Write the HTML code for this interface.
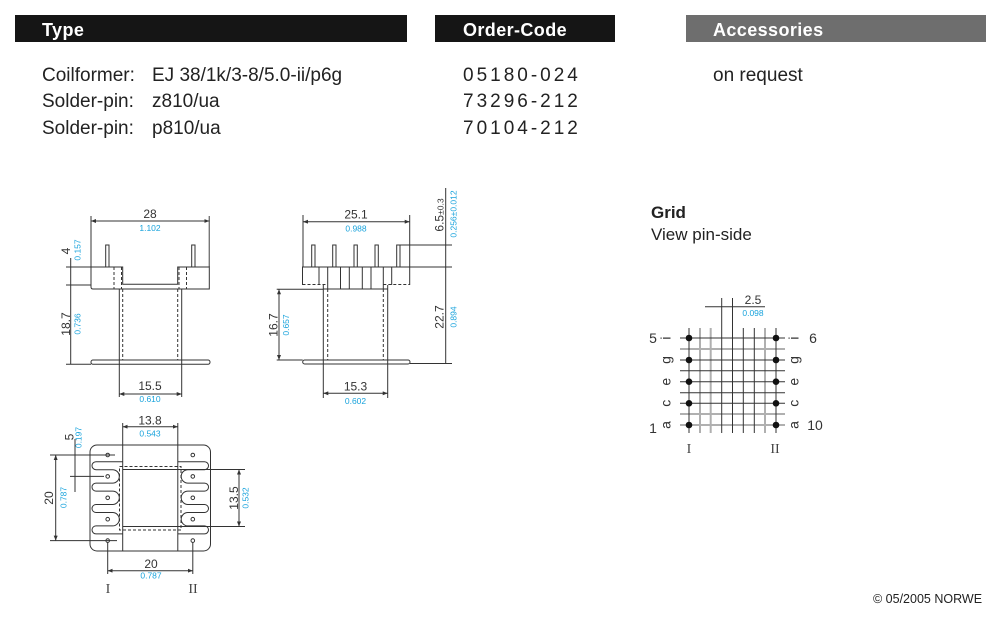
<!DOCTYPE html>
<html><head><meta charset="utf-8"><style>
body{margin:0;background:#fff}
svg{display:block}
text{font-family:"Liberation Sans",Arial,sans-serif}
.l{stroke:#333;stroke-width:1;fill:none}
.d{stroke-dasharray:3 2}
.gr{stroke:#b0b0b0;stroke-width:2;fill:none}
.t{font-size:12px;fill:#333}
.c{font-size:8.5px;fill:#19a3dc}
.s{font-family:"Liberation Serif",serif;font-size:14px;fill:#444}
.b{font-size:19px;fill:#222}
.h{font-size:18px;font-weight:bold;fill:#fff;letter-spacing:0.4px}
</style></head><body>
<svg width="1000" height="620" viewBox="0 0 1000 620">
<defs>
<marker id="a" viewBox="0 0 5 4" refX="5" refY="2" markerWidth="5" markerHeight="4" markerUnits="userSpaceOnUse" orient="auto-start-reverse"><path d="M0,0 L5,2 L0,4 z" fill="#333"/></marker>
</defs>

<!-- Header bars -->
<rect x="15" y="15" width="392" height="27" fill="#151515"/>
<rect x="435" y="15" width="180" height="27" fill="#151515"/>
<rect x="686" y="15" width="300" height="27" fill="#6e6e6e"/>
<text class="h" x="42" y="36">Type</text>
<text class="h" x="463" y="36">Order-Code</text>
<text class="h" x="713" y="36">Accessories</text>

<text class="b" x="42" y="81">Coilformer:</text>
<text class="b" x="152" y="81">EJ 38/1k/3-8/5.0-ii/p6g</text>
<text class="b" x="42" y="107">Solder-pin:</text>
<text class="b" x="152" y="107">z810/ua</text>
<text class="b" x="42" y="134">Solder-pin:</text>
<text class="b" x="152" y="134">p810/ua</text>
<text class="b" x="463" y="81" letter-spacing="3">05180-024</text>
<text class="b" x="463" y="107" letter-spacing="3">73296-212</text>
<text class="b" x="463" y="134" letter-spacing="3">70104-212</text>
<text class="b" x="713" y="81">on request</text>

<!-- LEFT DRAWING -->
<line class="l" x1="91" y1="216" x2="91" y2="267"/>
<line class="l" x1="209.3" y1="216" x2="209.3" y2="267" style="stroke:#777;stroke-width:1.4"/>
<line class="l" x1="91" y1="221" x2="209.3" y2="221" marker-start="url(#a)" marker-end="url(#a)"/>
<text class="t" x="150" y="218" text-anchor="middle">28</text>
<text class="c" x="150" y="231" text-anchor="middle">1.102</text>
<rect class="l" x="105.7" y="245" width="3.3" height="22"/>
<rect class="l" x="191.7" y="245" width="3.3" height="22"/>
<path class="l" d="M91,267 H122.7 V284.3 H177.7 V267 H209.3 V289 H93 Q91,289 91,287 Z"/>
<line class="l d" x1="114" y1="267" x2="114" y2="289"/>
<line class="l d" x1="121.5" y1="267" x2="121.5" y2="289"/>
<line class="l d" x1="179" y1="267" x2="179" y2="289"/>
<line class="l d" x1="186.5" y1="267" x2="186.5" y2="289"/>
<line class="l" x1="119.3" y1="289" x2="119.3" y2="397"/>
<line class="l" x1="181.7" y1="289" x2="181.7" y2="397"/>
<line class="l d" x1="122.7" y1="289" x2="122.7" y2="360"/>
<line class="l d" x1="177.7" y1="289" x2="177.7" y2="360"/>
<rect class="l" x="91" y="360" width="119" height="4.3" rx="2"/>
<line class="l" x1="66" y1="267" x2="91" y2="267"/>
<line class="l" x1="66" y1="285" x2="91" y2="285"/>
<line class="l" x1="66" y1="364.3" x2="91" y2="364.3"/>
<line class="l" x1="70.7" y1="258" x2="70.7" y2="364.3"/>
<text class="t" x="70" y="251" text-anchor="middle" transform="rotate(-90 70 251)">4</text>
<text class="c" x="80.5" y="250" text-anchor="middle" transform="rotate(-90 80.5 250)">0.157</text>
<text class="t" x="70" y="324" text-anchor="middle" transform="rotate(-90 70 324)">18.7</text>
<text class="c" x="80.5" y="324" text-anchor="middle" transform="rotate(-90 80.5 324)">0.736</text>
<line class="l" x1="119.3" y1="394" x2="181.7" y2="394" marker-start="url(#a)" marker-end="url(#a)"/>
<text class="t" x="150" y="390" text-anchor="middle">15.5</text>
<text class="c" x="150" y="402" text-anchor="middle">0.610</text>

<!-- MIDDLE DRAWING -->
<line class="l" x1="303" y1="215" x2="303" y2="267"/>
<line class="l" x1="409.7" y1="215" x2="409.7" y2="267"/>
<line class="l" x1="303" y1="221.7" x2="409.7" y2="221.7" marker-start="url(#a)" marker-end="url(#a)"/>
<text class="t" x="356" y="218.5" text-anchor="middle">25.1</text>
<text class="c" x="356" y="231.5" text-anchor="middle">0.988</text>
<rect class="l" x="311.7" y="245" width="3.3" height="22"/>
<rect class="l" x="332.7" y="245" width="3.3" height="22"/>
<rect class="l" x="354" y="245" width="3.3" height="22"/>
<rect class="l" x="375" y="245" width="3.3" height="22"/>
<rect class="l" x="396.7" y="245" width="3.3" height="22"/>
<path class="l" d="M302.5,285 V267 H409.7 V285"/>
<path class="l" d="M323.3,289 H387.7"/>
<line class="l d" x1="302.5" y1="284.5" x2="327.7" y2="284.5"/>
<line class="l d" x1="383.3" y1="284.5" x2="409.7" y2="284.5"/>
<line class="l" x1="319" y1="267" x2="319" y2="285"/>
<line class="l" x1="327.7" y1="267" x2="327.7" y2="289"/>
<line class="l" x1="340.5" y1="267" x2="340.5" y2="289"/>
<line class="l" x1="349.3" y1="267" x2="349.3" y2="289"/>
<line class="l" x1="362.3" y1="267" x2="362.3" y2="289"/>
<line class="l" x1="371" y1="267" x2="371" y2="289"/>
<line class="l" x1="383.3" y1="267" x2="383.3" y2="289"/>
<line class="l" x1="391.7" y1="267" x2="391.7" y2="285"/>
<line class="l" x1="323.3" y1="285" x2="323.3" y2="398"/>
<line class="l" x1="387.7" y1="285" x2="387.7" y2="398"/>
<line class="l d" x1="327.7" y1="289" x2="327.7" y2="360"/>
<line class="l d" x1="383.3" y1="289" x2="383.3" y2="360"/>
<rect class="l" x="302.7" y="360" width="107.3" height="4" rx="2"/>
<line class="l" x1="276.7" y1="289.3" x2="323.3" y2="289.3"/>
<line class="l" x1="276.7" y1="360" x2="302.7" y2="360"/>
<line class="l" x1="279" y1="289.3" x2="279" y2="360" marker-start="url(#a)" marker-end="url(#a)"/>
<text class="t" x="277.5" y="325" text-anchor="middle" transform="rotate(-90 277.5 325)">16.7</text>
<text class="c" x="289" y="325" text-anchor="middle" transform="rotate(-90 289 325)">0.657</text>
<line class="l" x1="400" y1="245" x2="452" y2="245"/>
<line class="l" x1="409.7" y1="267" x2="452" y2="267"/>
<line class="l" x1="410" y1="363.5" x2="452" y2="363.5"/>
<line class="l" x1="445.7" y1="188" x2="445.7" y2="363.5"/>
<text class="t" x="443.3" y="215" text-anchor="middle" transform="rotate(-90 443.3 215)">6.5<tspan font-size="8.5">±0.3</tspan></text>
<text class="c" x="456.7" y="214" text-anchor="middle" transform="rotate(-90 456.7 214)">0.256±0.012</text>
<text class="t" x="443.3" y="317" text-anchor="middle" transform="rotate(-90 443.3 317)">22.7</text>
<text class="c" x="456.7" y="317" text-anchor="middle" transform="rotate(-90 456.7 317)">0.894</text>
<line class="l" x1="323.3" y1="393.3" x2="387.7" y2="393.3" marker-start="url(#a)" marker-end="url(#a)"/>
<text class="t" x="355.5" y="390.5" text-anchor="middle">15.3</text>
<text class="c" x="355.5" y="404" text-anchor="middle">0.602</text>

<!-- BOTTOM DRAWING -->
<rect class="l" x="90" y="445" width="120.5" height="106" rx="7"/>
<line class="l" x1="122.7" y1="423" x2="122.7" y2="551"/>
<line class="l" x1="177.8" y1="423" x2="177.8" y2="551"/>
<line class="l" x1="122.7" y1="426.7" x2="177.8" y2="426.7" marker-start="url(#a)" marker-end="url(#a)"/>
<text class="t" x="150" y="424.5" text-anchor="middle">13.8</text>
<text class="c" x="150" y="436.5" text-anchor="middle">0.543</text>
<rect class="l d" x="119.5" y="466.5" width="61.5" height="63.5"/>
<line class="l" x1="122.7" y1="469.5" x2="245" y2="469.5"/>
<line class="l" x1="122.7" y1="526.5" x2="245" y2="526.5"/>
<path id="serp" class="l" d="M122.7,461.7 H96 A4 4 0 0 0 96,469.7 H112.6 A6.7 6.7 0 0 1 112.6,483.1 H96 A4 4 0 0 0 96,491.1 H112.6 A6.7 6.7 0 0 1 112.6,504.5 H96 A4 4 0 0 0 96,512.5 H112.6 A6.7 6.7 0 0 1 112.6,525.9 H96 A4 4 0 0 0 96,533.9 H122.7"/>
<path class="l" transform="translate(300.5,0) scale(-1,1)" d="M122.7,461.7 H96 A4 4 0 0 0 96,469.7 H112.6 A6.7 6.7 0 0 1 112.6,483.1 H96 A4 4 0 0 0 96,491.1 H112.6 A6.7 6.7 0 0 1 112.6,504.5 H96 A4 4 0 0 0 96,512.5 H112.6 A6.7 6.7 0 0 1 112.6,525.9 H96 A4 4 0 0 0 96,533.9 H122.7"/>
<g class="l">
<circle cx="107.7" cy="455" r="1.8"/><circle cx="107.7" cy="476.4" r="1.8"/><circle cx="107.7" cy="497.8" r="1.8"/><circle cx="107.7" cy="519.2" r="1.8"/><circle cx="107.7" cy="540.6" r="1.8"/>
<circle cx="192.8" cy="455" r="1.8"/><circle cx="192.8" cy="476.4" r="1.8"/><circle cx="192.8" cy="497.8" r="1.8"/><circle cx="192.8" cy="519.2" r="1.8"/><circle cx="192.8" cy="540.6" r="1.8"/>
</g>
<line class="l" x1="50" y1="455" x2="115" y2="455"/>
<line class="l" x1="70" y1="476.4" x2="104" y2="476.4"/>
<line class="l" x1="50" y1="540.6" x2="117" y2="540.6"/>
<line class="l" x1="75" y1="439" x2="75" y2="492"/>
<text class="t" x="73.3" y="437" text-anchor="middle" transform="rotate(-90 73.3 437)">5</text>
<text class="c" x="81.7" y="437.5" text-anchor="middle" transform="rotate(-90 81.7 437.5)">0.197</text>
<line class="l" x1="55.7" y1="455" x2="55.7" y2="540.6" marker-start="url(#a)" marker-end="url(#a)"/>
<text class="t" x="53" y="498" text-anchor="middle" transform="rotate(-90 53 498)">20</text>
<text class="c" x="66.3" y="497.5" text-anchor="middle" transform="rotate(-90 66.3 497.5)">0.787</text>
<line class="l" x1="239" y1="469.5" x2="239" y2="526.5" marker-start="url(#a)" marker-end="url(#a)"/>
<text class="t" x="238" y="498" text-anchor="middle" transform="rotate(-90 238 498)">13.5</text>
<text class="c" x="248.5" y="498" text-anchor="middle" transform="rotate(-90 248.5 498)">0.532</text>
<line class="l" x1="107.7" y1="542.4" x2="107.7" y2="574"/>
<line class="l" x1="192.8" y1="542.4" x2="192.8" y2="574"/>
<line class="l" x1="107.7" y1="570.7" x2="192.8" y2="570.7" marker-start="url(#a)" marker-end="url(#a)"/>
<text class="t" x="151" y="568" text-anchor="middle">20</text>
<text class="c" x="151" y="578.5" text-anchor="middle">0.787</text>
<text class="s" x="108" y="593" text-anchor="middle">I</text>
<text class="s" x="193" y="593" text-anchor="middle">II</text>

<!-- GRID -->
<text x="651" y="218" style="font-size:17px;font-weight:bold;fill:#222">Grid</text>
<text x="651" y="240" style="font-size:17px;fill:#222">View pin-side</text>
<g class="gr">
<line x1="700" y1="328" x2="700" y2="433"/>
<line x1="710.7" y1="328" x2="710.7" y2="433"/>
<line x1="765" y1="328" x2="765" y2="433"/>
<line x1="680" y1="349" x2="785" y2="349"/>
<line x1="680" y1="414" x2="785" y2="414"/>
<line x1="680" y1="425" x2="785" y2="425"/>
</g>
<g class="l">
<line x1="689" y1="328" x2="689" y2="433"/>
<line x1="721.7" y1="298" x2="721.7" y2="433"/>
<line x1="732.5" y1="298" x2="732.5" y2="433"/>
<line x1="743.3" y1="328" x2="743.3" y2="433"/>
<line x1="754.3" y1="328" x2="754.3" y2="433"/>
<line x1="776" y1="328" x2="776" y2="433"/>
<line x1="680" y1="338" x2="785" y2="338"/>
<line x1="680" y1="360" x2="785" y2="360"/>
<line x1="680" y1="370.7" x2="785" y2="370.7"/>
<line x1="680" y1="381.7" x2="785" y2="381.7"/>
<line x1="680" y1="392.7" x2="785" y2="392.7"/>
<line x1="680" y1="403.3" x2="785" y2="403.3"/>
<line x1="705" y1="306.7" x2="765" y2="306.7"/>
</g>
<g fill="#111">
<circle cx="689" cy="338" r="3.3"/><circle cx="689" cy="360" r="3.3"/><circle cx="689" cy="381.7" r="3.3"/><circle cx="689" cy="403.3" r="3.3"/><circle cx="689" cy="425" r="3.3"/>
<circle cx="776" cy="338" r="3.3"/><circle cx="776" cy="360" r="3.3"/><circle cx="776" cy="381.7" r="3.3"/><circle cx="776" cy="403.3" r="3.3"/><circle cx="776" cy="425" r="3.3"/>
</g>
<text class="t" x="753" y="304" text-anchor="middle">2.5</text>
<text class="c" x="753" y="316" text-anchor="middle">0.098</text>
<g style="font-size:14px;fill:#333">
<text x="653" y="343" text-anchor="middle">5</text>
<text x="653" y="433" text-anchor="middle">1</text>
<text x="813" y="343" text-anchor="middle">6</text>
<text x="815" y="430" text-anchor="middle">10</text>
<text x="670.6" y="338" text-anchor="middle" transform="rotate(-90 670.6 338)">i</text>
<text x="670.6" y="360" text-anchor="middle" transform="rotate(-90 670.6 360)">g</text>
<text x="670.6" y="381.7" text-anchor="middle" transform="rotate(-90 670.6 381.7)">e</text>
<text x="670.6" y="403.3" text-anchor="middle" transform="rotate(-90 670.6 403.3)">c</text>
<text x="670.6" y="425" text-anchor="middle" transform="rotate(-90 670.6 425)">a</text>
<text x="798.6" y="338" text-anchor="middle" transform="rotate(-90 798.6 338)">i</text>
<text x="798.6" y="360" text-anchor="middle" transform="rotate(-90 798.6 360)">g</text>
<text x="798.6" y="381.7" text-anchor="middle" transform="rotate(-90 798.6 381.7)">e</text>
<text x="798.6" y="403.3" text-anchor="middle" transform="rotate(-90 798.6 403.3)">c</text>
<text x="798.6" y="425" text-anchor="middle" transform="rotate(-90 798.6 425)">a</text>
</g>
<text class="s" x="689" y="453" text-anchor="middle">I</text>
<text class="s" x="775" y="453" text-anchor="middle">II</text>

<text x="873" y="603" style="font-size:12.5px;fill:#222">© 05/2005 NORWE</text>
</svg>
</body></html>
